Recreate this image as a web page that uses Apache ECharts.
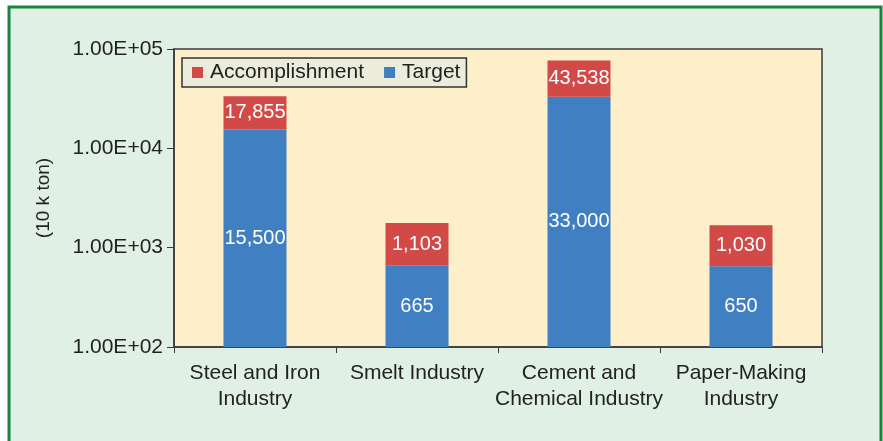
<!DOCTYPE html>
<html>
<head>
<meta charset="utf-8">
<script src="https://cdn.jsdelivr.net/npm/echarts@6/dist/echarts.min.js"></script>
<style>
html,body{margin:0;padding:0;background:#ffffff;}
#chart{width:883px;height:441px;}
</style>
</head>
<body>
<div id="chart"></div>
<script>
const categories = ['Steel and Iron\nIndustry', 'Smelt Industry', 'Cement and\nChemical Industry', 'Paper-Making\nIndustry'];
const targetValues = [15500, 665, 33000, 650];
const accomplishmentValues = [17855, 1103, 43538, 1030];
const yTicks = [100, 1000, 10000, 100000];
const yTickLabels = ['1.00E+02', '1.00E+03', '1.00E+04', '1.00E+05'];
const yAxisName = '(10 k ton)';

const FONT = '"Liberation Sans", Arial, sans-serif';
const chart = echarts.init(document.getElementById('chart'), null, {renderer: 'canvas'});
const fmt = p => Number(p.value).toLocaleString('en-US');

chart.setOption({
  animation: false,
  graphic: [{
    type: 'rect',
    z: -100,
    shape: {x: 9, y: 7, width: 872, height: 460},
    style: {fill: '#e1f0e4', stroke: '#17853d', lineWidth: 3}
  }],
  grid: {
    left: 174, right: 61, top: 49, bottom: 94,
    show: true, backgroundColor: '#fcefc9', borderColor: '#3a3a3a', borderWidth: 1.5
  },
  legend: {
    left: 182, top: 58,
    itemWidth: 11, itemHeight: 11, itemGap: 20,
    icon: 'rect',
    backgroundColor: '#ececdc', borderColor: '#333', borderWidth: 1.5, borderRadius: 0,
    padding: [4, 6, 4, 10],
    textStyle: {fontFamily: FONT, fontSize: 21, color: '#222', padding: [0, 0, 0, 2]},
    data: ['Accomplishment', 'Target']
  },
  xAxis: {
    type: 'category',
    data: categories,
    axisLine: {lineStyle: {color: '#3a3a3a', width: 1.5}},
    axisTick: {show: true, alignWithLabel: false, length: 6, lineStyle: {color: '#3a3a3a'}},
    axisLabel: {fontFamily: FONT, fontSize: 21, color: '#222', lineHeight: 26, margin: 13, interval: 0}
  },
  yAxis: {
    type: 'log', logBase: 10, min: yTicks[0], max: yTicks[yTicks.length - 1], startValue: yTicks[0],
    name: yAxisName, nameLocation: 'middle', nameGap: 121, nameRotate: 90,
    nameTextStyle: {fontFamily: FONT, fontSize: 19, color: '#222'},
    axisLine: {show: true, lineStyle: {color: '#3a3a3a', width: 1.5}},
    axisTick: {show: true, length: 7, lineStyle: {color: '#3a3a3a'}},
    splitLine: {show: false},
    axisLabel: {
      fontFamily: FONT, fontSize: 21, color: '#222', margin: 11,
      formatter: v => { const i = yTicks.findIndex(t => Math.abs(t - v) / t < 1e-6); return i >= 0 ? yTickLabels[i] : ''; }
    }
  },
  series: [{
    name: 'Target', type: 'bar', stack: 'total', data: targetValues,
    barWidth: 63,
    itemStyle: {color: '#3f7fc2'},
    label: {show: true, position: 'inside', color: '#fff', fontFamily: FONT, fontSize: 20, formatter: fmt}
  }, {
    name: 'Accomplishment', type: 'bar', stack: 'total', data: accomplishmentValues,
    barWidth: 63,
    itemStyle: {color: '#d24a47'},
    label: {show: true, position: 'inside', color: '#fff', fontFamily: FONT, fontSize: 20, formatter: fmt}
  }]
});
</script>
</body>
</html>
